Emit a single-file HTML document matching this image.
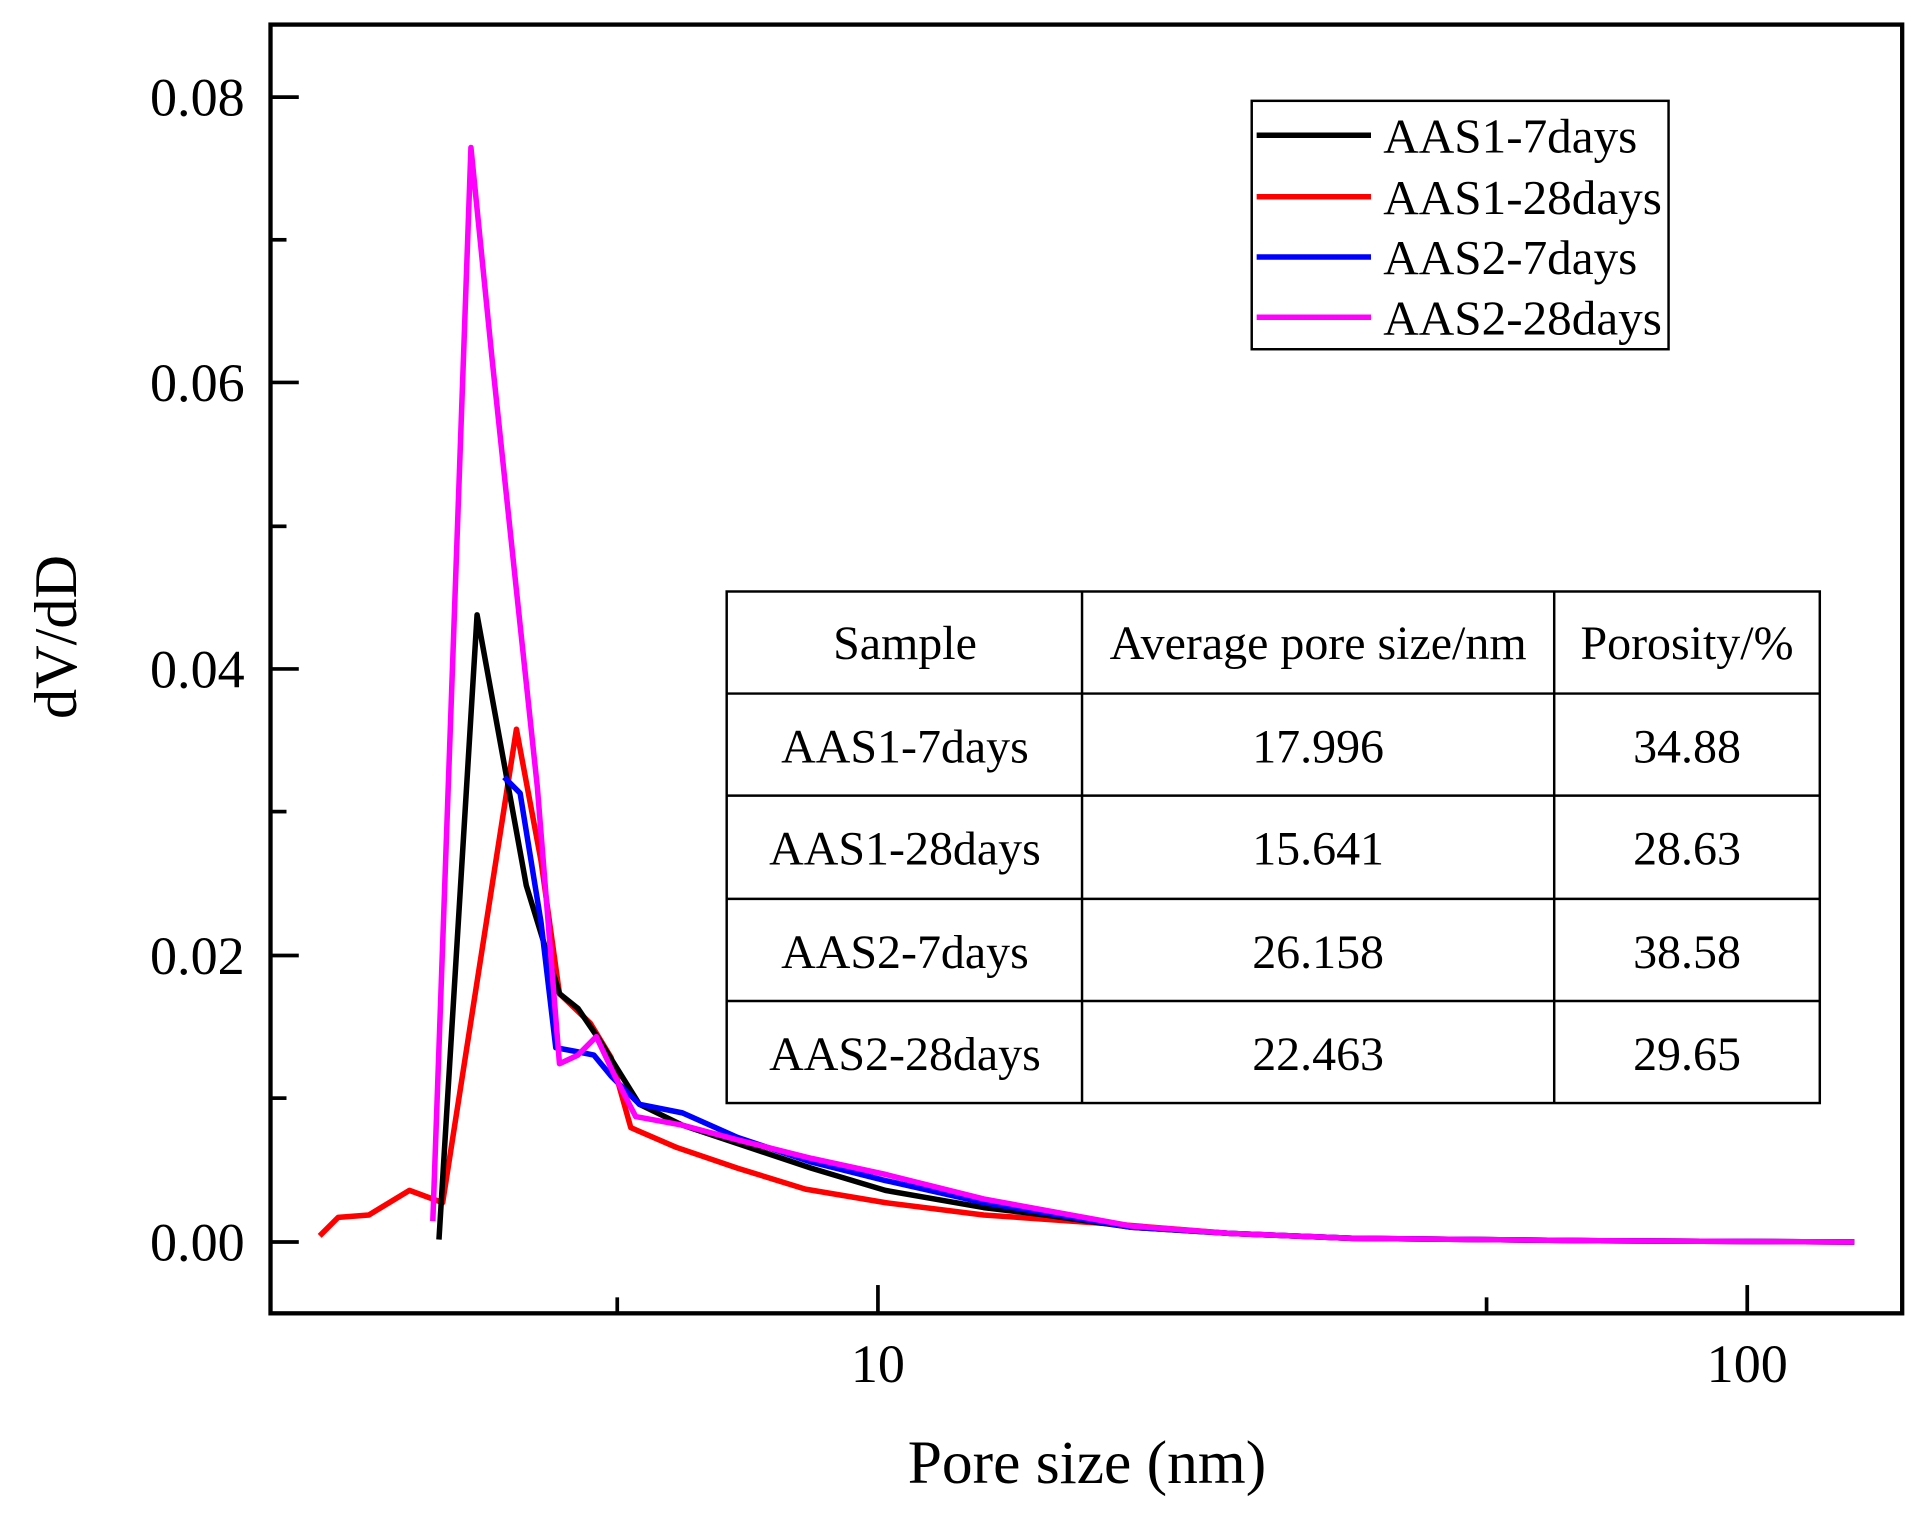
<!DOCTYPE html>
<html><head><meta charset="utf-8"><style>
html,body{margin:0;padding:0;background:#fff;}
svg{display:block;}
text{font-family:"Liberation Serif",serif;fill:#000;}
</style></head><body>
<svg width="1928" height="1515" viewBox="0 0 1568 1232" preserveAspectRatio="none" xmlns="http://www.w3.org/2000/svg">
<rect x="0" y="0" width="1568" height="1232" fill="#fff"/>
<rect x="220" y="20" width="1327" height="1048" fill="none" stroke="#000" stroke-width="3.5"/>
<g stroke="#000" stroke-width="3">
<line x1="220" y1="79" x2="243" y2="79"/><line x1="220" y1="195" x2="233" y2="195"/>
<line x1="220" y1="311" x2="243" y2="311"/><line x1="220" y1="428" x2="233" y2="428"/>
<line x1="220" y1="544" x2="243" y2="544"/><line x1="220" y1="660" x2="233" y2="660"/>
<line x1="220" y1="777" x2="243" y2="777"/><line x1="220" y1="893" x2="233" y2="893"/>
<line x1="220" y1="1010" x2="243" y2="1010"/>
<line x1="714" y1="1068" x2="714" y2="1045"/><line x1="1421" y1="1068" x2="1421" y2="1045"/>
<line x1="502" y1="1068" x2="502" y2="1055"/><line x1="1209" y1="1068" x2="1209" y2="1055"/>
</g>
<g font-size="44" text-anchor="end">
<text x="199" y="94">0.08</text><text x="199" y="326">0.06</text><text x="199" y="559">0.04</text>
<text x="199" y="792">0.02</text><text x="199" y="1025">0.00</text>
</g>
<g font-size="44" text-anchor="middle">
<text x="714" y="1124">10</text><text x="1421" y="1124">100</text>
</g>
<text x="884" y="1206" font-size="50" text-anchor="middle">Pore size (nm)</text>
<text transform="translate(62,518) rotate(-90)" font-size="49" text-anchor="middle">dV/dD</text>
<g fill="none" stroke-width="4.5" stroke-linejoin="round">
<polyline stroke="#ff0000" points="260,1005 275,990 300,988 333,968 360,978 420,593 440,700 455,808 480,832 497,860 513,917 550,933 600,950 655,967 720,978 800,988 900,995 1000,1003 1100,1007 1300,1009 1508,1010"/>
<polyline stroke="#000000" points="357,1008 388,500 428,720 455,808 470,820 487,845 520,898 555,915 600,930 660,950 720,968 800,982 850,988 920,998 1000,1003 1100,1007 1200,1008 1300,1009 1508,1010"/>
<polyline stroke="#0000ff" points="410,632 423,645 440,750 452,852 468,855 483,858 497,875 520,898 555,905 600,925 660,945 720,960 800,978 920,998 1000,1003 1100,1007 1300,1009 1508,1010"/>
<polyline stroke="#ff00ff" points="352,993 383,120 400,290 420,480 437,640 455,865 470,858 485,843 500,875 517,908 555,915 600,927 660,942 720,955 800,975 920,997 1000,1003 1100,1007 1300,1009 1508,1010"/>
</g>
<rect x="1018" y="82" width="339" height="202" fill="#fff" stroke="#000" stroke-width="2"/>
<g stroke-width="4.5">
<line x1="1022" y1="110" x2="1115" y2="110" stroke="#000"/>
<line x1="1022" y1="160" x2="1115" y2="160" stroke="#ff0000"/>
<line x1="1022" y1="209" x2="1115" y2="209" stroke="#0000ff"/>
<line x1="1022" y1="258" x2="1115" y2="258" stroke="#ff00ff"/>
</g>
<g font-size="40">
<text x="1125" y="124">AAS1-7days</text><text x="1125" y="174">AAS1-28days</text>
<text x="1125" y="223">AAS2-7days</text><text x="1125" y="272">AAS2-28days</text>
</g>
<rect x="591" y="481" width="889" height="416" fill="#fff" stroke="#000" stroke-width="2"/>
<g stroke="#000" stroke-width="2">
<line x1="880" y1="481" x2="880" y2="897"/><line x1="1264" y1="481" x2="1264" y2="897"/>
<line x1="591" y1="564" x2="1480" y2="564"/><line x1="591" y1="647" x2="1480" y2="647"/>
<line x1="591" y1="731" x2="1480" y2="731"/><line x1="591" y1="814" x2="1480" y2="814"/>
</g>
<g font-size="39" text-anchor="middle">
<text x="736" y="536">Sample</text><text x="1072" y="536">Average pore size/nm</text><text x="1372" y="536">Porosity/%</text>
<text x="736" y="620">AAS1-7days</text><text x="1072" y="620">17.996</text><text x="1372" y="620">34.88</text>
<text x="736" y="703">AAS1-28days</text><text x="1072" y="703">15.641</text><text x="1372" y="703">28.63</text>
<text x="736" y="787">AAS2-7days</text><text x="1072" y="787">26.158</text><text x="1372" y="787">38.58</text>
<text x="736" y="870">AAS2-28days</text><text x="1072" y="870">22.463</text><text x="1372" y="870">29.65</text>
</g>
</svg>
</body></html>
